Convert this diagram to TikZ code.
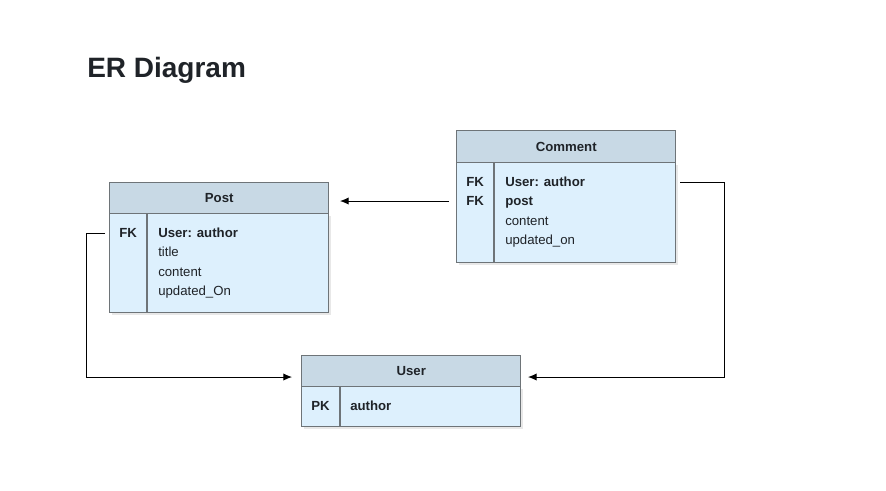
\documentclass[tikz,border=0pt]{standalone}
\usepackage{fontspec}
\setmainfont{Liberation Sans}
\usetikzlibrary{arrows.meta,shadows}
\definecolor{hdr}{HTML}{C8D9E5}
\definecolor{bdy}{HTML}{DDF0FD}
\definecolor{brd}{HTML}{6E7478}
\definecolor{txt}{HTML}{1F2328}
\tikzset{
  tblhead/.style={draw=brd,line width=1.1pt,fill=hdr,anchor=north west,minimum width=164.25pt,minimum height=23.25pt,inner sep=0pt,font=\fontsize{9.9}{11}\selectfont\bfseries,text=txt},
  tblbody/.style={draw=brd,line width=1.1pt,fill=bdy,anchor=north west,minimum width=164.25pt,inner sep=0pt,drop shadow={shadow xshift=1.5pt,shadow yshift=-1.5pt,fill=black!25,opacity=0.35}},
  fld/.style={anchor=base west,inner sep=0pt,font=\fontsize{9.9}{11}\selectfont,text=txt},
  key/.style={fld,font=\fontsize{9.9}{11}\selectfont\bfseries},
  conn/.style={draw=black,line width=0.75pt,-{Latex[length=6.5pt,width=5.5pt]}},
  divider/.style={draw=brd,line width=1.1pt}
}
\begin{document}
\begin{tikzpicture}[x=0.75pt,y=-0.75pt]
\useasboundingbox[fill=white] (0,0) rectangle (886,490);
\node[anchor=base west,inner sep=0pt,font=\fontsize{21}{25}\selectfont\bfseries,text=txt] (title) at (87,77) {ER Diagram};

% Post
\node[tblbody,minimum height=74.25pt] (postBody) at (109,213) {};
\node[tblhead] (postHead) at (109,182) {Post};
\draw[divider] (147,213) -- (147,312);
\node[key] (postFK) at (119,237.5) {FK};
\node[key] (postF1) at (158,237.5) {User: author};
\node[fld] (postF2) at (158,256.5) {title};
\node[fld] (postF3) at (158,276.5) {content};
\node[fld] (postF4) at (158,295.5) {updated\_On};

% Comment
\node[tblbody,minimum height=75pt] (comBody) at (456,162) {};
\node[tblhead,minimum height=24pt] (comHead) at (456,130) {Comment};
\draw[divider] (494,162) -- (494,262);
\node[key] (comFK1) at (466,186.5) {FK};
\node[key] (comFK2) at (466,205.5) {FK};
\node[key] (comF1) at (505,186.5) {User: author};
\node[key] (comF2) at (505,205.5) {post};
\node[fld] (comF3) at (505,225.5) {content};
\node[fld] (comF4) at (505,244.5) {updated\_on};

% User
\node[tblbody,minimum height=30pt] (userBody) at (301,386) {};
\node[tblhead] (userHead) at (301,355) {User};
\draw[divider] (340,386) -- (340,426);
\node[key] (userPK) at (311,410.5) {PK};
\node[key] (userF1) at (350,410.5) {author};

% connector anchors
\coordinate (c1s) at (449,201);
\coordinate (c1e) at (340,201);
\coordinate (c2s) at (105,233);
\coordinate (c2e) at (292,377);
\coordinate (c3s) at (680,182);
\coordinate (c3e) at (528,377);

\draw[conn] (c1s) -- (c1e);
\draw[conn] (c2s) -- (86,233) -- (86,377) -- (c2e);
\draw[conn] (c3s) -- (724,182) -- (724,377) -- (c3e);
\end{tikzpicture}
\end{document}
